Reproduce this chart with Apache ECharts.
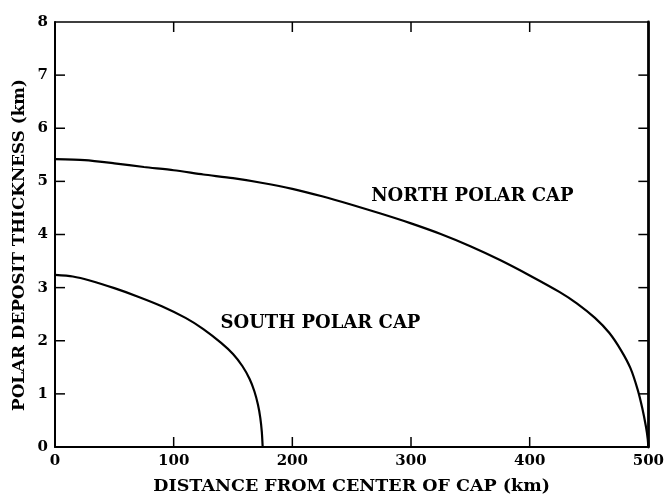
<!DOCTYPE html>
<html>
<head>
<meta charset="utf-8">
<script src="https://cdn.jsdelivr.net/npm/echarts@6/dist/echarts.min.js"></script>
<style>html,body{margin:0;padding:0;background:#fff;}#c{width:667px;height:500px;}</style>
</head>
<body>
<div id="c"></div>
<script>
var northX = [0, 25, 50, 75, 100, 125, 150, 175, 200, 225, 250, 275, 300, 325, 350, 375, 400, 425, 440, 455, 467, 477, 485, 491, 495, 498, 499.5, 500];
var northY = [5.42, 5.40, 5.34, 5.27, 5.21, 5.13, 5.06, 4.97, 4.86, 4.72, 4.56, 4.39, 4.21, 4.01, 3.78, 3.52, 3.23, 2.92, 2.70, 2.43, 2.15, 1.82, 1.48, 1.08, 0.72, 0.38, 0.15, 0];
var southX = [0, 15, 30, 50, 70, 90, 110, 125, 140, 150, 158, 164, 168, 171, 173, 174.3, 175];
var southY = [3.24, 3.21, 3.13, 2.99, 2.83, 2.65, 2.43, 2.22, 1.96, 1.75, 1.52, 1.28, 1.05, 0.80, 0.55, 0.28, 0];
var xTicks = [100, 200, 300, 400];
var yTicks = [1, 2, 3, 4, 5, 6, 7];
var labelNames = ['NORTH POLAR CAP', 'SOUTH POLAR CAP'];
var labelAt = [[266, 4.71], [139, 2.32]];
var xTitle = 'DISTANCE FROM CENTER OF CAP (km)';
var yTitle = 'POLAR DEPOSIT THICKNESS (km)';

function pairs(xs, ys) { return xs.map(function (x, i) { return [x, ys[i]]; }); }
var font = 'DejaVu Serif';
var XMAX = 500, YMAX = 8, TICK = 10;
var chart = echarts.init(document.getElementById('c'));
var axisBase = function (pos, show) {
  return {
    type: 'value', position: pos, min: 0,
    axisLine: { show: true, onZero: false, lineStyle: { color: '#000', width: 2 } },
    axisTick: { show: false },
    splitLine: { show: false },
    axisLabel: { show: show, color: '#000', fontFamily: font, fontWeight: 'bold', fontSize: 15 }
  };
};
var xb = axisBase('bottom', true);
xb.max = XMAX; xb.interval = 100; xb.name = xTitle; xb.nameLocation = 'middle'; xb.nameGap = 30;
xb.nameTextStyle = { color: '#000', fontFamily: font, fontWeight: 'bold', fontSize: 17.5 };
xb.axisLabel.margin = 7;
var xt = axisBase('top', false);
xt.max = XMAX; xt.interval = 100; xt.axisLine.lineStyle.width = 1.5;
var yl = axisBase('left', true);
yl.max = YMAX; yl.interval = 1;
yl.axisLabel.margin = 7;
var yr = axisBase('right', false);
yr.max = YMAX; yr.interval = 1; yr.axisLine.lineStyle.width = 2.8;

function lbl(i) {
  return {
    type: 'scatter', xAxisIndex: 0, yAxisIndex: 0, silent: true,
    symbol: 'circle', symbolSize: 1, itemStyle: { color: 'rgba(0,0,0,0)', opacity: 1 },
    label: { show: true, formatter: labelNames[i], position: 'right', distance: 0, color: '#000', opacity: 1, fontFamily: font, fontWeight: 'bold', fontSize: 18 },
    data: [labelAt[i]]
  };
}
function tickSeries(vals, isX) {
  return {
    type: 'custom', xAxisIndex: 0, yAxisIndex: 0, silent: true, clip: false,
    data: vals,
    renderItem: function (params, api) {
      var v = api.value(0);
      var a, b, s = { stroke: '#000', lineWidth: 1.5 };
      if (isX) {
        a = api.coord([v, 0]); b = api.coord([v, YMAX]);
        return { type: 'group', children: [
          { type: 'line', shape: { x1: a[0], y1: a[1], x2: a[0], y2: a[1] - TICK }, style: s },
          { type: 'line', shape: { x1: b[0], y1: b[1], x2: b[0], y2: b[1] + TICK }, style: s }
        ] };
      }
      a = api.coord([0, v]); b = api.coord([XMAX, v]);
      return { type: 'group', children: [
        { type: 'line', shape: { x1: a[0], y1: a[1], x2: a[0] + TICK, y2: a[1] }, style: s },
        { type: 'line', shape: { x1: b[0], y1: b[1], x2: b[0] - TICK, y2: b[1] }, style: s }
      ] };
    }
  };
}
chart.setOption({
  animation: false,
  backgroundColor: '#fff',
  grid: { left: 55, right: 17, top: 22, bottom: 50 },
  xAxis: [xb, xt],
  yAxis: [yl, yr],
  graphic: [{
    type: 'text', x: 20, y: 245, rotation: Math.PI / 2,
    style: { text: yTitle, fill: '#000', font: 'bold 16.8px "DejaVu Serif"', align: 'center', verticalAlign: 'middle' }
  }],
  series: [
    { type: 'line', data: pairs(northX, northY), smooth: 0.25, showSymbol: false, lineStyle: { color: '#000', width: 2.2 } },
    { type: 'line', data: pairs(southX, southY), smooth: 0.25, showSymbol: false, lineStyle: { color: '#000', width: 2.2 } },
    lbl(0), lbl(1),
    tickSeries(xTicks, true), tickSeries(yTicks, false)
  ]
});
</script>
</body>
</html>
